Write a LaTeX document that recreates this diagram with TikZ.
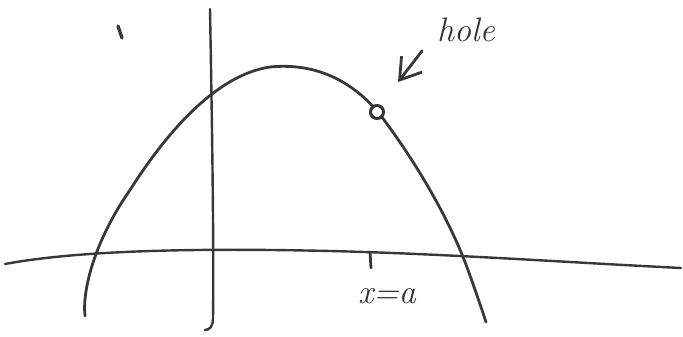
\documentclass[tikz,border=0pt]{standalone}
\usetikzlibrary{arrows.meta}
\begin{document}
\begin{tikzpicture}[x=1pt,y=-1pt,
  pen/.style={line width=2.8pt,color=black!78,line cap=round,line join=round},
  lbl/.style={font=\fontsize{34}{34}\selectfont\itshape,text=black!80,inner sep=1pt}]
\useasboundingbox (0,0) rectangle (683,337);
% y-axis
\draw[pen,line width=2.4pt] (210,9) .. controls (212,120) and (214,250) .. (213,318) .. controls (213,326) and (210,330) .. (205,330);
% x-axis
\draw[pen,line width=2.4pt] (5,264) .. controls (80,250) and (200,248) .. (330,251) .. controls (450,254) and (560,262) .. (681,268);
% tick at x=a
\draw[pen] (370,252) -- (371,268);
% small mark
\draw[pen,line width=3.2pt] (118,26) -- (122,38);
% parabola
\draw[pen] (85,316) .. controls (82,290) and (95,240) .. (130,190)
  .. controls (165,135) and (215,75) .. (270,67)
  .. controls (320,62) and (355,85) .. (378,112);
\draw[pen] (378,112) .. controls (415,160) and (450,220) .. (468,270)
  .. controls (476,292) and (482,310) .. (486,322);
% hole
\node[draw=black!80,line width=3pt,circle,minimum size=13pt,inner sep=0pt,fill=white] (hole) at (377,112) {};
% label
\node[lbl] (holelbl) at (466,30) {hole};
\coordinate (arrfrom) at (422,51);
\coordinate (arrto) at (398,82);
\draw[pen,-{Straight Barb[length=20pt,width=26pt]}] (arrfrom) -- (arrto);
\node[lbl] (xa) at (387,296) {x=a};
\end{tikzpicture}
\end{document}
